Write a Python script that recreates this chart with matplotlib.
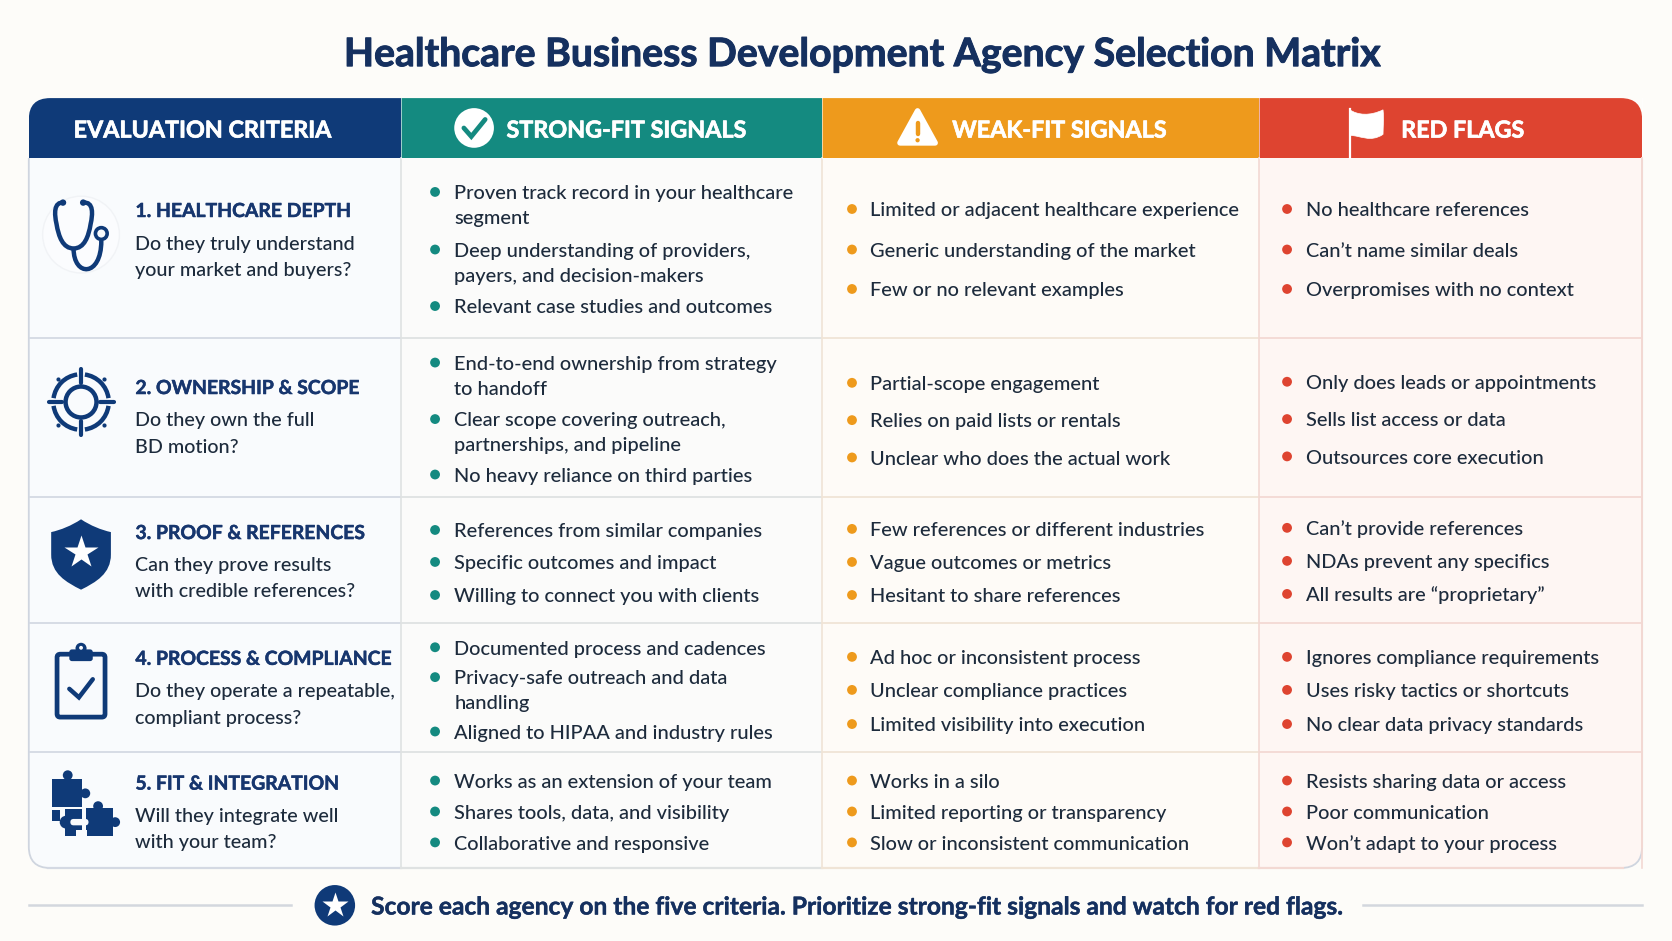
import numpy as np
import matplotlib
matplotlib.use("Agg")
import matplotlib.pyplot as plt
import matplotlib.patheffects as pe
from matplotlib.patches import FancyBboxPatch, Rectangle, Circle, Polygon, PathPatch, Arc
from matplotlib.path import Path

TITLE = "Healthcare Business Development Agency Selection Matrix"
FOOTER = "Score each agency on the five criteria. Prioritize strong-fit signals and watch for red flags."
HEADERS = ["EVALUATION CRITERIA", "STRONG-FIT SIGNALS", "WEAK-FIT SIGNALS", "RED FLAGS"]
CRITERIA = ["1. HEALTHCARE DEPTH", "2. OWNERSHIP & SCOPE", "3. PROOF & REFERENCES",
            "4. PROCESS & COMPLIANCE", "5. FIT & INTEGRATION"]
QUESTIONS = [["Do they truly understand", "your market and buyers?"],
             ["Do they own the full", "BD motion?"],
             ["Can they prove results", "with credible references?"],
             ["Do they operate a repeatable,", "compliant process?"],
             ["Will they integrate well", "with your team?"]]
STRONG = [["Proven track record in your healthcare\nsegment",
           "Deep understanding of providers,\npayers, and decision-makers",
           "Relevant case studies and outcomes"],
          ["End-to-end ownership from strategy\nto handoff",
           "Clear scope covering outreach,\npartnerships, and pipeline",
           "No heavy reliance on third parties"],
          ["References from similar companies", "Specific outcomes and impact",
           "Willing to connect you with clients"],
          ["Documented process and cadences", "Privacy-safe outreach and data\nhandling",
           "Aligned to HIPAA and industry rules"],
          ["Works as an extension of your team", "Shares tools, data, and visibility",
           "Collaborative and responsive"]]
WEAK = [["Limited or adjacent healthcare experience", "Generic understanding of the market",
         "Few or no relevant examples"],
        ["Partial-scope engagement", "Relies on paid lists or rentals",
         "Unclear who does the actual work"],
        ["Few references or different industries", "Vague outcomes or metrics",
         "Hesitant to share references"],
        ["Ad hoc or inconsistent process", "Unclear compliance practices",
         "Limited visibility into execution"],
        ["Works in a silo", "Limited reporting or transparency",
         "Slow or inconsistent communication"]]
RED = [["No healthcare references", "Can\u2019t name similar deals", "Overpromises with no context"],
       ["Only does leads or appointments", "Sells list access or data", "Outsources core execution"],
       ["Can\u2019t provide references", "NDAs prevent any specifics",
        "All results are \u201cproprietary\u201d"],
       ["Ignores compliance requirements", "Uses risky tactics or shortcuts",
        "No clear data privacy standards"],
       ["Resists sharing data or access", "Poor communication", "Won\u2019t adapt to your process"]]

# layout (px of a 1568-wide working frame)
COLS = [27, 376, 771, 1181, 1540]
ROWS = [92, 148, 317, 466, 584, 705, 814]
CRIT_Y = [197, 363, 499, 617, 734]
Q_Y = [[228, 252], [393, 418], [529, 553], [647, 672], [764, 789]]
STRONG_Y = [[180, 234, 287], [340, 393, 445], [497, 527, 558], [607, 635, 686], [732, 761, 790]]
WEAK_Y = [[196, 234, 271], [359, 394, 429], [496, 527, 558], [616, 647, 679], [732, 761, 790]]
RED_Y = [[196, 234, 271], [358, 393, 428], [495, 526, 557], [616, 647, 679], [732, 761, 790]]

NAVY, TEAL, ORANGE, CRED = "#0f3a78", "#148a80", "#ee9a1c", "#de4430"
INK = "#1d2b3c"
TITLE_C = "#15305f"
FONT = ["Lato", "DejaVu Sans"]
W, H = 1568, 941 * 1568 / 1672

fig = plt.figure(figsize=(16.72, 9.41), dpi=100, facecolor="#fdfcf9")
ax = fig.add_axes([0, 0, 1, 1])
ax.set_xlim(0, W)
ax.set_ylim(H, 0)
ax.axis("off")


def txt(x, y, s, size, color=INK, weight="normal", ha="left", stroke=0.0, **kw):
    t = ax.text(x, y, s, fontsize=size, color=color, fontweight=weight, ha=ha,
                va="baseline", family=FONT, zorder=8, **kw)
    if stroke:
        t.set_path_effects([pe.withStroke(linewidth=stroke, foreground=color)])
    return t


txt(808, 62, TITLE, 28.2, TITLE_C, "bold", ha="center", stroke=0.7)

# table frame
frame = FancyBboxPatch((COLS[0], ROWS[0]), COLS[-1] - COLS[0], ROWS[-1] - ROWS[0],
                       boxstyle="round,pad=0,rounding_size=20", fc="white", ec="none", zorder=0)
ax.add_patch(frame)
head_c = [NAVY, TEAL, ORANGE, CRED]
body_c = ["#f9fbfd", "#fbfbfa", "#fefbf7", "#fef6f3"]
line_c = ["#d4d9e3", "#dfe2e2", "#f0e4d6", "#f3d9d3"]
for i in range(4):
    x0, x1 = COLS[i], COLS[i + 1]
    for (y0, y1, c) in [(ROWS[0], ROWS[1], head_c[i]), (ROWS[1], ROWS[-1], body_c[i])]:
        r = Rectangle((x0, y0), x1 - x0, y1 - y0, fc=c, ec="none", zorder=1)
        ax.add_patch(r)
        r.set_clip_path(frame)
    for y in ROWS[2:-1]:
        ax.plot([x0, x1], [y, y], color=line_c[i], lw=1.3, zorder=2, solid_capstyle="butt")
    ax.plot([x1, x1], [ROWS[1], ROWS[-1]], color=line_c[min(i + 1, 3)], lw=1.2, zorder=2)
    ax.plot([x1, x1], [ROWS[0], ROWS[1]], color="#ffffff", lw=0.7, alpha=.6, zorder=2)
# outer border (body only)
border = FancyBboxPatch((COLS[0], ROWS[0]), COLS[-1] - COLS[0], ROWS[-1] - ROWS[0],
                        boxstyle="round,pad=0,rounding_size=20", fc="none", ec="#cfd5df", lw=1.3, zorder=1.5)
ax.add_patch(border)
border.set_clip_path(Rectangle((0, ROWS[1]), W, H, transform=ax.transData))
for i in range(4):
    ax.plot([COLS[i] + (18 if i == 0 else 0), COLS[i + 1] - (18 if i == 3 else 0)], [ROWS[-1], ROWS[-1]],
            color=line_c[i], lw=1.6, zorder=1.6)
ax.plot([COLS[-1]] * 2, [ROWS[1], ROWS[-1] - 20], color=line_c[3], lw=1.3, zorder=2)

# header labels
HEAD_X = [69, 475, 893, 1314]
for x, s in zip(HEAD_X, HEADERS):
    txt(x, 129, s, 16.8, "white", "bold", stroke=0.5)

# header icons
ax.add_patch(Circle((444.6, 120), 18.6, fc="white", ec="none", zorder=5))
ax.plot([435, 442, 455], [120, 128, 112], color=TEAL, lw=3.4, zorder=6,
        solid_capstyle="round", solid_joinstyle="miter")
ax.add_patch(Polygon([(860.5, 104), (877, 134), (844, 134)], closed=True, fc="white", ec="white",
                     lw=4, joinstyle="round", zorder=5))
ax.plot([860.5, 860.5], [115, 126], color=ORANGE, lw=3.2, zorder=6, solid_capstyle="round")
ax.add_patch(Circle((860.5, 131.5), 2, fc=ORANGE, ec="none", zorder=6))
ax.plot([1266, 1266], [102, 148], color="white", lw=1.6, zorder=5)
flag = Path([(1266, 103), (1273, 108), (1285, 109), (1297, 103), (1298, 112), (1297, 120), (1297, 126),
             (1285, 134), (1276, 127), (1266, 127), (1266, 103)],
            [Path.MOVETO, Path.CURVE4, Path.CURVE4, Path.CURVE4, Path.CURVE4, Path.CURVE4, Path.CURVE4,
             Path.CURVE4, Path.CURVE4, Path.CURVE4, Path.CLOSEPOLY])
ax.add_patch(PathPatch(flag, fc="white", ec="white", lw=.5, zorder=5))

# criteria column
for i in range(5):
    txt(127, CRIT_Y[i] + 6.5, CRITERIA[i], 13.95, "#17366e", "bold", stroke=0.35)
    for y, s in zip(Q_Y[i], QUESTIONS[i]):
        txt(127, y + 6.5, s, 14.2, INK, "medium")

# bullets
for rows, ys, bx, tx, c in [(STRONG, STRONG_Y, 408, 426, TEAL), (WEAK, WEAK_Y, 799, 816, ORANGE),
                            (RED, RED_Y, 1207, 1225, CRED)]:
    for items, yy in zip(rows, ys):
        for s, y in zip(items, yy):
            ax.add_patch(Circle((bx, y), 4.6, fc=c, ec="none", zorder=4))
            for j, line in enumerate(s.split("\n")):
                txt(tx, y + 6.8 + j * 23.5, line, 14.4, INK, "medium")

# icons: stethoscope
ax.add_patch(Circle((76, 220), 36, fc="#fbfcfe", ec="#f1f3f6", lw=1, zorder=3))
ax.add_patch(PathPatch(Path([(60, 190), (50, 189), (51, 201), (53, 210),
                             (55, 222), (59, 233), (69, 233),
                             (79, 233), (83, 222), (85, 210),
                             (87, 201), (88, 189), (78, 190)],
                            [Path.MOVETO] + [Path.CURVE4] * 12),
                       fc="none", ec=NAVY, lw=3.2, capstyle="round", zorder=5))
ax.add_patch(PathPatch(Path([(69, 233), (69, 260), (95, 260), (95, 226)],
                            [Path.MOVETO, Path.CURVE4, Path.CURVE4, Path.CURVE4]),
                       fc="none", ec=NAVY, lw=3.2, zorder=5))
ax.add_patch(Circle((95, 219), 5.5, fc="#f8fafd", ec=NAVY, lw=2.6, zorder=6))
for ex in (59, 78):
    ax.add_patch(Circle((ex, 190), 3, fc=NAVY, ec="none", zorder=6))

# icons: target
tc = (76, 377)
ax.add_patch(Circle(tc, 14.5, fc="none", ec=NAVY, lw=3.2, zorder=5))
for a in (0, 90, 180, 270):
    ax.add_patch(Arc(tc, 52, 52, theta1=a + 8, theta2=a + 82, ec=NAVY, lw=3.2, zorder=5))
    ca, sa = np.cos(np.radians(a)), np.sin(np.radians(a))
    ax.plot([tc[0] + 18 * ca, tc[0] + 30.5 * ca], [tc[1] + 18 * sa, tc[1] + 30.5 * sa],
            color=NAVY, lw=3, solid_capstyle="round", zorder=5)
    ca, sa = np.cos(np.radians(a + 45)), np.sin(np.radians(a + 45))
    ax.plot([tc[0] + 30 * ca], [tc[1] + 30 * sa], "o", ms=3, color=NAVY, mec="none", zorder=5)

# icons: shield
shield = Path([(76, 487), (85, 493), (95, 497), (104, 499), (104, 520), (104, 538), (90, 546), (76, 553),
               (62, 546), (48, 538), (48, 520), (48, 499), (57, 497), (67, 493), (76, 487), (76, 487)],
              [Path.MOVETO] + [Path.CURVE4] * 3 + [Path.LINETO] + [Path.CURVE4] * 6 + [Path.LINETO] +
              [Path.CURVE4] * 3 + [Path.CLOSEPOLY])
ax.add_patch(PathPatch(shield, fc=NAVY, ec="none", zorder=5))
ax.plot([76], [518], marker="*", ms=25, color="white", mec="none", zorder=6)

# icons: clipboard
ax.add_patch(FancyBboxPatch((53.5, 613.5), 45, 59, boxstyle="round,pad=0,rounding_size=3",
                            fc="#f8fafd", ec=NAVY, lw=3.4, zorder=5))
ax.add_patch(FancyBboxPatch((65, 609), 22, 11, boxstyle="round,pad=0,rounding_size=2.5",
                            fc=NAVY, ec="none", zorder=6))
ax.add_patch(Circle((76, 608), 5.2, fc=NAVY, ec="none", zorder=6))
ax.add_patch(Circle((76, 607.5), 1.8, fc="#f8fafd", ec="none", zorder=7))
ax.plot([65, 74, 87], [646, 654, 637], color=NAVY, lw=3.2, solid_capstyle="round",
        solid_joinstyle="miter", zorder=6)

# icons: puzzle
for (x, y, w, h) in [(49, 731, 28, 26), (81, 758, 25, 26), (61, 759, 16, 25), (49, 760, 7, 10)]:
    ax.add_patch(Rectangle((x, y), w, h, fc=NAVY, ec="none", zorder=5))
for (x, y, r) in [(63.5, 727, 4.6), (80, 744, 4.6), (92, 756, 4.6), (108, 771, 4.6), (62, 771, 6)]:
    ax.add_patch(Circle((x, y), r, fc=NAVY, ec="none", zorder=5))
ax.add_patch(FancyBboxPatch((66, 768), 17, 6, boxstyle="round,pad=0,rounding_size=3",
                            fc="#f8fafd", ec="none", zorder=6))
ax.add_patch(Rectangle((71, 778), 11, 7, fc="#f8fafd", ec="none", zorder=6))

# footer
ax.plot([27, 273], [849, 849], color="#d3d7de", lw=1.8)
ax.plot([1278, 1540], [849, 849], color="#d3d7de", lw=1.8)
ax.add_patch(Circle((314, 849), 19, fc=NAVY, ec="none", zorder=5))
ax.plot([314], [848.5], marker="*", ms=19, color="white", mec="none", zorder=6)
txt(348, 857.6, FOOTER, 17.7, TITLE_C, "bold", stroke=0.3)

fig.savefig("out.png", dpi=100, facecolor=fig.get_facecolor())
